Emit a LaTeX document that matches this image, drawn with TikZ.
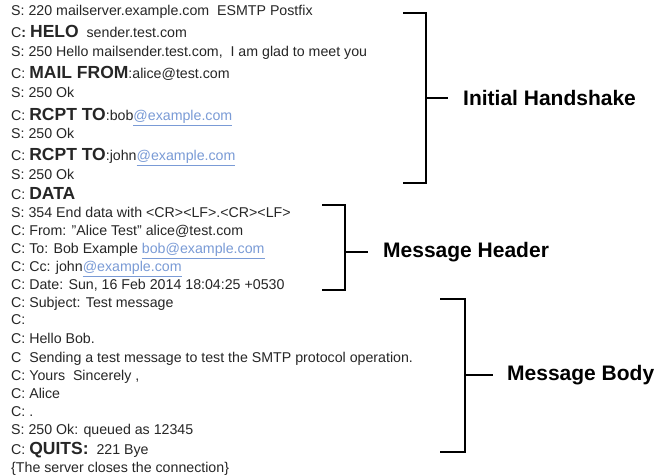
\documentclass[tikz,border=0pt]{standalone}
\usepackage{fontspec}
\setmainfont{Liberation Sans}
\definecolor{txt}{HTML}{262626}
\definecolor{linkc}{HTML}{7A9BD6}
\newcommand\lnk[1]{\textcolor{linkc}{\underline{#1}}}
\newcommand\kw[1]{{\fontsize{17.5bp}{20bp}\selectfont\bfseries #1}}
\newcommand\sq{\symbol{34}}
\begin{document}
\begin{tikzpicture}[x=1bp,y=-1bp,
  ln/.style={anchor=base west,inner sep=0pt,text=txt,font=\fontsize{14.2bp}{17bp}\selectfont},
  brk/.style={line width=2.6bp,black},
  lab/.style={anchor=west,inner sep=0pt,font=\fontsize{21bp}{24bp}\selectfont\bfseries,text=black}]
\useasboundingbox[fill=white] (0,0) rectangle (659,475);
\node[ln] (l1) at (11,16) {S: 220 mailserver.example.com\ \ ESMTP Postfix};
\node[ln] (l2) at (11,38) {C\textbf{:} \kw{HELO}\ \ sender.test.com};
\node[ln] (l3) at (11,57) {S: 250 Hello mailsender.test.com,\ \ I am glad to meet you};
\node[ln] (l4) at (11,79) {C: \kw{MAIL FROM}:alice@test.com};
\node[ln] (l5) at (11,98) {S: 250 Ok};
\node[ln] (l6) at (11,121) {C: \kw{RCPT TO}:bob\lnk{@example.com}};
\node[ln] (l7) at (11,139) {S: 250 Ok};
\node[ln] (l8) at (11,161) {C: \kw{RCPT TO}:john\lnk{@example.com}};
\node[ln] (l9) at (11,180) {S: 250 Ok};
\node[ln] (l10) at (11,200) {C: \kw{DATA}};
\node[ln] (l11) at (11,218) {S: 354 End data with <CR><LF>.<CR><LF>};
\node[ln] (l12) at (11,236) {C: From: \sq Alice Test\sq{} alice@test.com};
\node[ln] (l13) at (11,254) {C: To: Bob Example \lnk{bob@example.com}};
\node[ln] (l14) at (11,272) {C: Cc: john\lnk{@example.com}};
\node[ln] (l15) at (11,290) {C: Date: Sun, 16 Feb 2014 18:04:25 +0530};
\node[ln] (l16) at (11,308) {C: Subject: Test message};
\node[ln] (l17) at (11,325) {C:};
\node[ln] (l18) at (11,343) {C: Hello Bob.};
\node[ln] (l19) at (11,362) {C\ \ Sending a test message to test the SMTP protocol operation.};
\node[ln] (l20) at (11,380) {C: Yours\ \ Sincerely ,};
\node[ln] (l21) at (11,398) {C: Alice};
\node[ln] (l22) at (11,416) {C: .};
\node[ln] (l23) at (11,434) {S: 250 Ok: queued as 12345};
\node[ln] (l24) at (11,454) {C: \kw{QUITS:}\ \ 221 Bye};
\node[ln] (l25) at (11,472) {\{The server closes the connection\}};
% Initial Handshake bracket
\coordinate (ihA) at (403,13); \coordinate (ihB) at (426,13);
\coordinate (ihC) at (426,183); \coordinate (ihD) at (403,183);
\coordinate (ihM) at (426,98); \coordinate (ihT) at (448,98);
\draw[brk] (ihA) -- (ihB) -- (ihC) -- (ihD);
\draw[brk] (ihM) -- (ihT);
\node[lab] (ih) at (463,98) {Initial Handshake};
% Message Header bracket
\coordinate (mhA) at (322,205); \coordinate (mhB) at (345,205);
\coordinate (mhC) at (345,290); \coordinate (mhD) at (322,290);
\coordinate (mhM) at (345,252); \coordinate (mhT) at (368,252);
\draw[brk] (mhA) -- (mhB) -- (mhC) -- (mhD);
\draw[brk] (mhM) -- (mhT);
\node[lab] (mh) at (383,252) {Message Header};
% Message Body bracket
\coordinate (mbA) at (440,299); \coordinate (mbB) at (465,299);
\coordinate (mbC) at (465,452); \coordinate (mbD) at (440,452);
\coordinate (mbM) at (465,375); \coordinate (mbT) at (493,375);
\draw[brk] (mbA) -- (mbB) -- (mbC) -- (mbD);
\draw[brk] (mbM) -- (mbT);
\node[lab] (mb) at (507,375) {Message Body};
\end{tikzpicture}
\end{document}
